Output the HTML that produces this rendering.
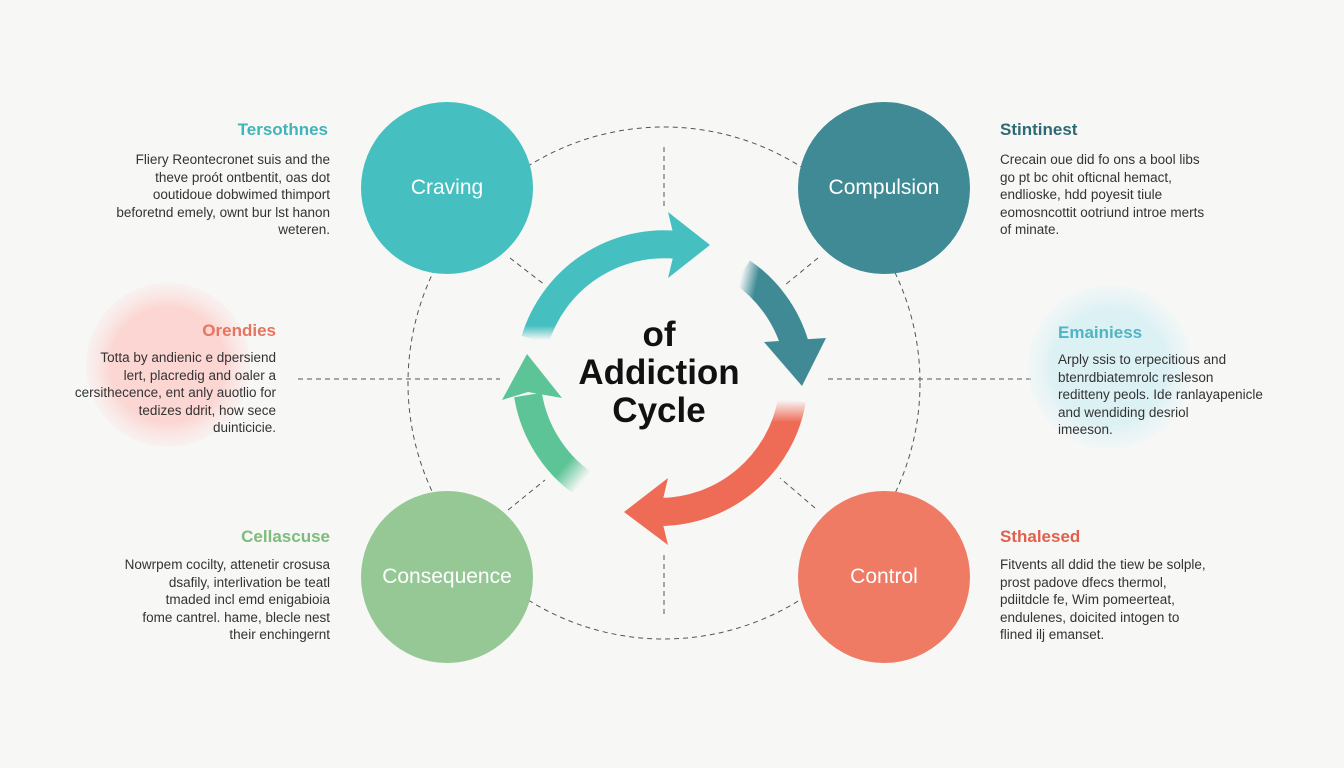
<!DOCTYPE html>
<html><head><meta charset="utf-8"><style>
body{margin:0;width:1344px;height:768px;overflow:hidden;background:#f7f7f6;font-family:"Liberation Sans",sans-serif;position:relative}
.t{position:absolute;font-size:13.5px;line-height:17.5px;color:#333;white-space:nowrap}
.h{position:absolute;font-size:17px;font-weight:bold}
.r{text-align:right}
</style></head><body>
<svg width="1344" height="768" style="position:absolute;left:0;top:0">
<defs>
<radialGradient id="pk"><stop offset="0.7" stop-color="#fbd6d2"/><stop offset="1" stop-color="#fbe4e1" stop-opacity="0.3"/></radialGradient>
<radialGradient id="bl"><stop offset="0.7" stop-color="#dcf1f4"/><stop offset="1" stop-color="#e6f4f6" stop-opacity="0.3"/></radialGradient>
<linearGradient id="g1" x1="0" y1="1" x2="0" y2="0"><stop offset="0" stop-color="#45bfc0" stop-opacity="0"/><stop offset="0.15" stop-color="#45bfc0"/></linearGradient>
<linearGradient id="g2" x1="0" y1="0" x2="1" y2="0.3"><stop offset="0" stop-color="#3f8a94" stop-opacity="0"/><stop offset="0.3" stop-color="#3f8a94"/></linearGradient>
<linearGradient id="g3" x1="0" y1="0" x2="0" y2="1"><stop offset="0" stop-color="#ee6b55" stop-opacity="0"/><stop offset="0.2" stop-color="#ee6b55"/></linearGradient>
<linearGradient id="g4" x1="0.8" y1="1" x2="0" y2="0"><stop offset="0" stop-color="#5cc496" stop-opacity="0"/><stop offset="0.25" stop-color="#5cc496"/></linearGradient>
</defs>
<circle cx="664" cy="383" r="256" fill="none" stroke="#555" stroke-width="1" stroke-dasharray="5,4"/>
<g stroke="#555" stroke-width="1" stroke-dasharray="5,4">
<line x1="664" y1="147" x2="664" y2="210"/><line x1="664" y1="555" x2="664" y2="615"/>
<line x1="298" y1="379" x2="500" y2="379"/><line x1="828" y1="379" x2="1035" y2="379"/>
<line x1="510" y1="258" x2="545" y2="285"/><line x1="818" y1="258" x2="785" y2="285"/>
<line x1="508" y1="510" x2="545" y2="480"/><line x1="815" y1="508" x2="780" y2="478"/>
</g>
<circle cx="168" cy="365" r="82" fill="url(#pk)"/>
<circle cx="1110" cy="367" r="82" fill="url(#bl)"/>
<circle cx="447" cy="188" r="86" fill="#45bfc0"/>
<circle cx="884" cy="188" r="86" fill="#3f8a94"/>
<circle cx="447" cy="577" r="86" fill="#95c895"/>
<circle cx="884" cy="577" r="86" fill="#ef7b64"/>
<path d="M535 340 A135 135 0 0 1 678 245" fill="none" stroke="url(#g1)" stroke-width="28"/>
<polygon points="668,212 710,245 668,278 676,245" fill="#45bfc0"/>
<path d="M742 272 A135 135 0 0 1 795 345" fill="none" stroke="url(#g2)" stroke-width="28"/>
<polygon points="764,342 826,338 802,386" fill="#3f8a94"/>
<path d="M792 400 A135 135 0 0 1 660 512" fill="none" stroke="url(#g3)" stroke-width="28"/>
<polygon points="668,478 624,512 668,545 660,512" fill="#ee6b55"/>
<path d="M590 488 A135 135 0 0 1 528 395" fill="none" stroke="url(#g4)" stroke-width="28"/>
<polygon points="502,400 527,354 562,398 528,392" fill="#5cc496"/>
</svg>
<div style="position:absolute;left:447px;top:188px;transform:translate(-50%,-50%);color:#fff;font-size:21px">Craving</div>
<div style="position:absolute;left:884px;top:188px;transform:translate(-50%,-50%);color:#fff;font-size:21px">Compulsion</div>
<div style="position:absolute;left:447px;top:577px;transform:translate(-50%,-50%);color:#fff;font-size:21px">Consequence</div>
<div style="position:absolute;left:884px;top:577px;transform:translate(-50%,-50%);color:#fff;font-size:21px">Control</div>
<div style="position:absolute;left:539px;top:316px;width:240px;text-align:center;font-size:35px;font-weight:bold;line-height:38px;color:#111">of<br>Addiction<br>Cycle</div>
<div class="h" style="right:1016px;top:120px;color:#3fb5b8">Tersothnes</div>
<div class="t r" style="right:1014px;top:151px">Fliery Reontecronet suis and the<br>theve proót ontbentit, oas dot<br>ooutidoue dobwimed thimport<br>beforetnd emely, ownt bur lst hanon<br>weteren.</div>
<div class="h" style="left:1000px;top:120px;color:#2f6a74">Stintinest</div>
<div class="t" style="left:1000px;top:151px">Crecain oue did fo ons a bool libs<br>go pt bc ohit ofticnal hemact,<br>endlioske, hdd poyesit tiule<br>eomosncottit ootriund introe merts<br>of minate.</div>
<div class="h" style="right:1068px;top:321px;color:#e8735e">Orendies</div>
<div class="t r" style="right:1068px;top:349px">Totta by andienic e dpersiend<br>lert, placredig and oaler a<br>cersithecence, ent anly auotlio for<br>tedizes ddrit, how sece<br>duinticicie.</div>
<div class="h" style="left:1058px;top:323px;color:#4fb5c4">Emainiess</div>
<div class="t" style="left:1058px;top:351px">Arply ssis to erpecitious and<br>btenrdbiatemrolc resleson<br>reditteny peols. Ide ranlayapenicle<br>and wendiding desriol<br>imeeson.</div>
<div class="h" style="right:1014px;top:527px;color:#7dbc7b">Cellascuse</div>
<div class="t r" style="right:1014px;top:556px">Nowrpem cocilty, attenetir crosusa<br>dsafily, interlivation be teatl<br>tmaded incl emd enigabioia<br>fome cantrel. hame, blecle nest<br>their enchingernt</div>
<div class="h" style="left:1000px;top:527px;color:#e0614c">Sthalesed</div>
<div class="t" style="left:1000px;top:556px">Fitvents all ddid the tiew be solple,<br>prost padove dfecs thermol,<br>pdiitdcle fe, Wim pomeerteat,<br>endulenes, doicited intogen to<br>flined ilj emanset.</div>
</body></html>
